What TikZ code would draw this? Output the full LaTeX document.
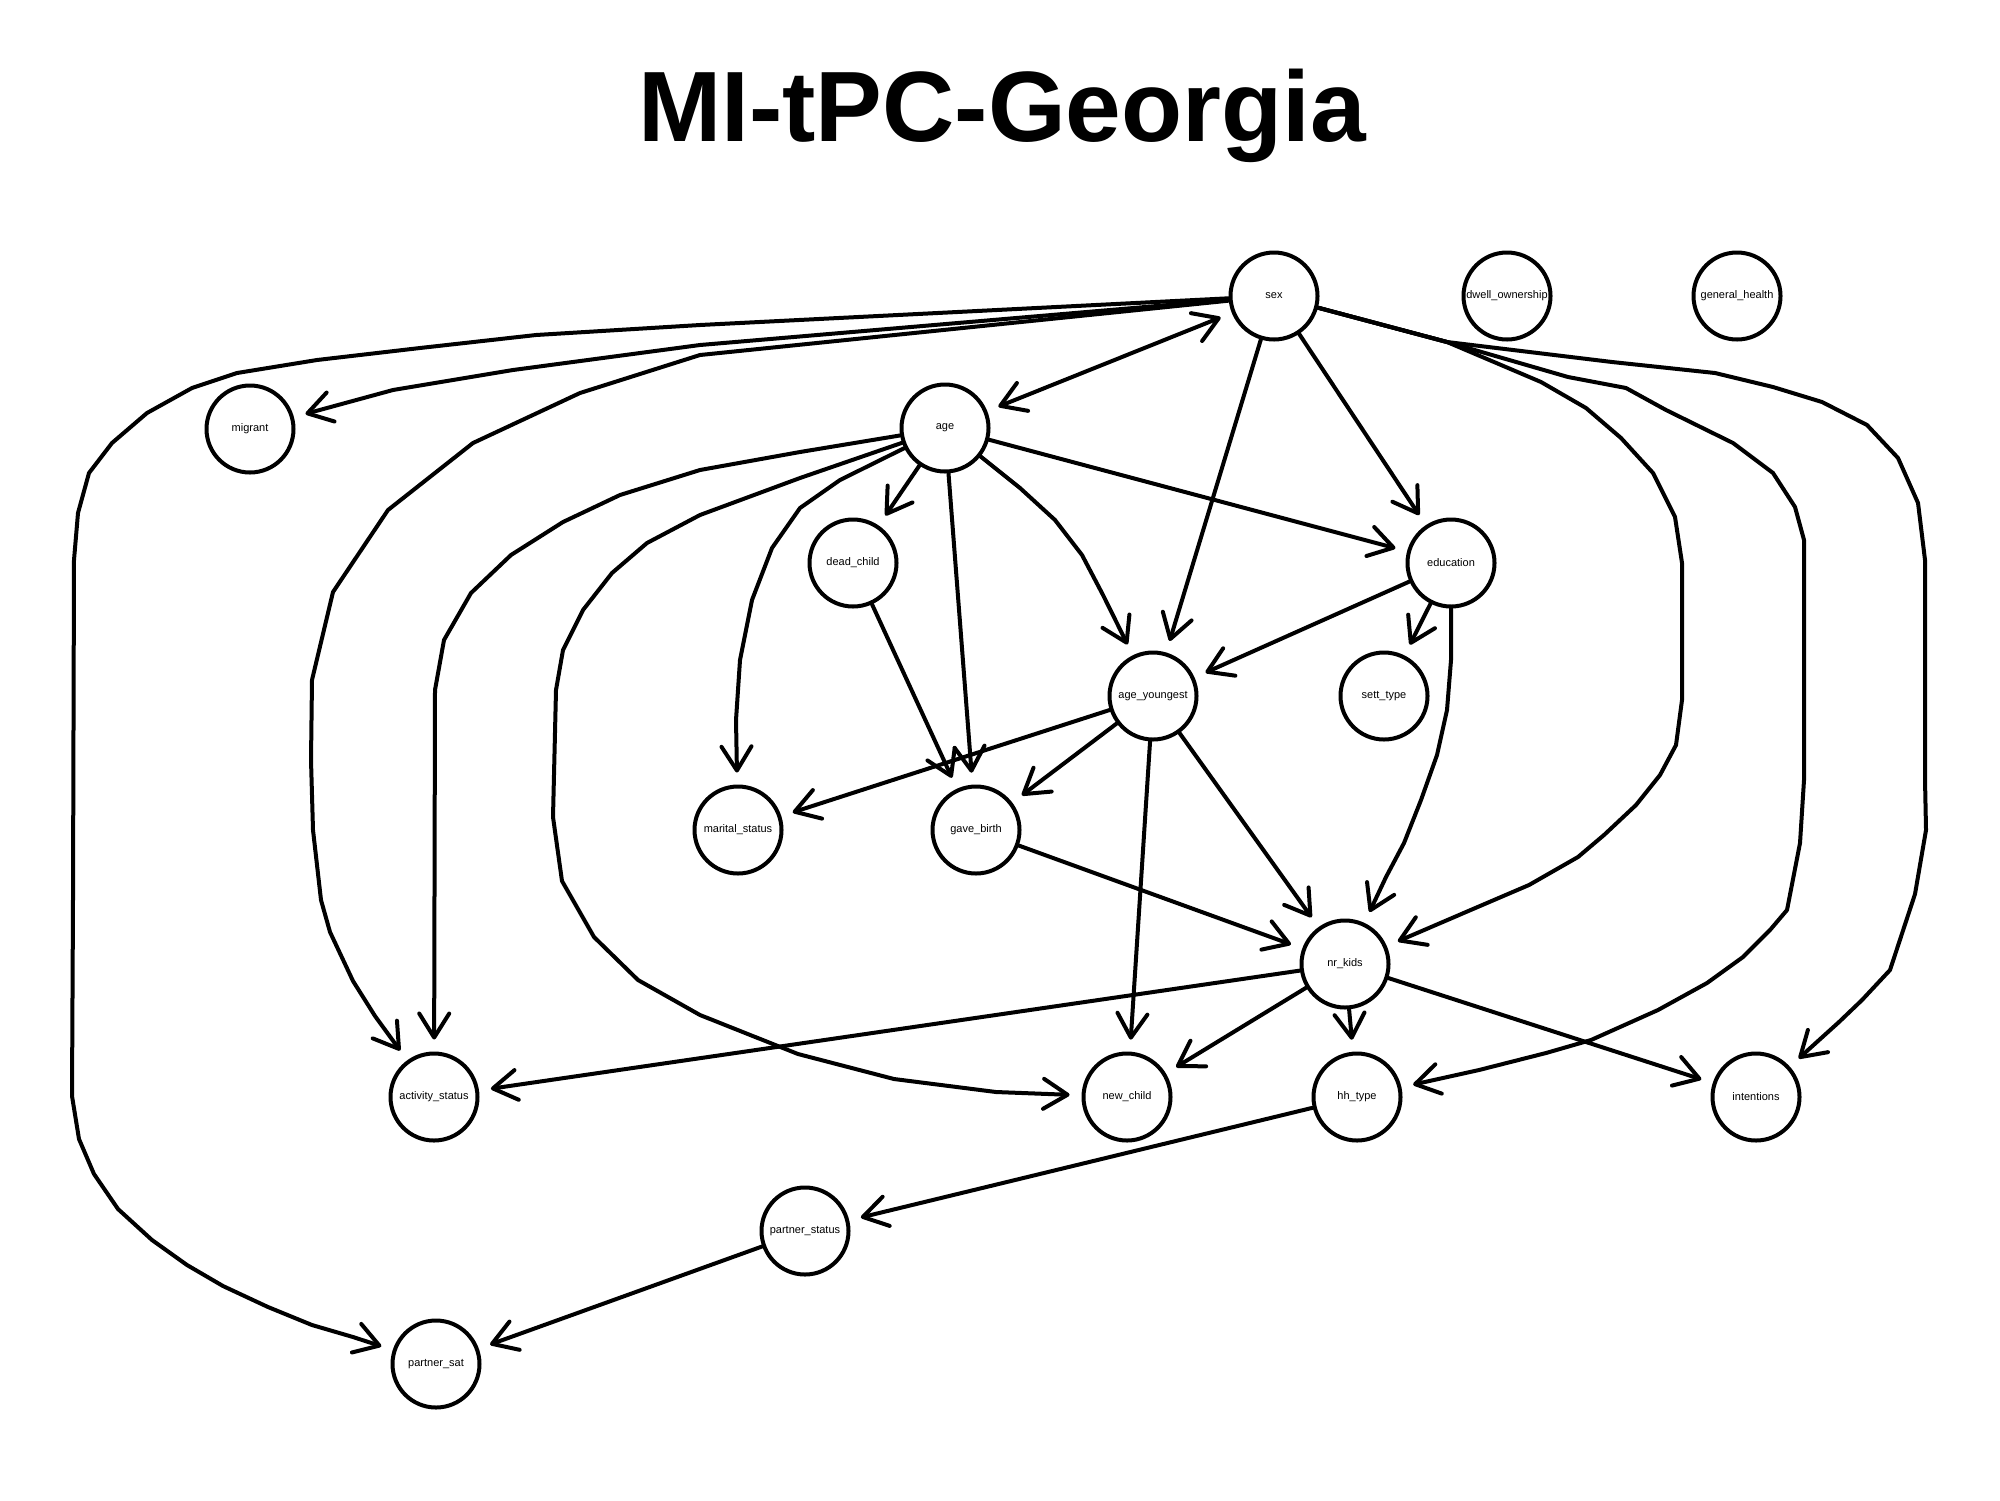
\documentclass[tikz,border=0pt]{standalone}
\usepackage{fontspec}
\setmainfont{Liberation Sans}
\usetikzlibrary{arrows.meta}
\begin{document}
\begin{tikzpicture}[x=0.5pt,y=-0.5pt,
  var/.style={circle,draw,line width=2pt,minimum size=43.5pt,inner sep=0pt,font=\fontsize{5.5pt}{6.6pt}\selectfont},
  tip/.tip={Straight Barb[length=12pt,width=15pt,round]},
  edge/.style={line width=2pt,line join=round,line cap=round,-tip,shorten >=6pt},
  biedge/.style={edge,tip-tip,shorten <=6pt}]
\useasboundingbox (0,0) rectangle (2000,1500);
\node[anchor=base,font=\fontsize{50pt}{60pt}\selectfont\bfseries] (title) at (1002,141) {MI-tPC-Georgia};

\node[var] (sex) at (1274,296) {sex};
\node[var] (dwell) at (1507,296) {dwell\_ownership};
\node[var] (gh) at (1737,296) {general\_health};
\node[var] (migrant) at (250,429) {migrant};
\node[var] (age) at (945,428) {age};
\node[var] (dead) at (853,563) {dead\_child};
\node[var] (edu) at (1451,563) {education};
\node[var] (ay) at (1153,696) {age\_youngest};
\node[var] (sett) at (1384,696) {sett\_type};
\node[var] (marital) at (738,830) {marital\_status};
\node[var] (gave) at (976,830) {gave\_birth};
\node[var] (nrk) at (1345,964) {nr\_kids};
\node[var] (act) at (434,1097) {activity\_status};
\node[var] (newc) at (1127,1097) {new\_child};
\node[var] (hh) at (1357,1097) {hh\_type};
\node[var] (int) at (1756,1097) {intentions};
\node[var] (pstat) at (805,1231) {partner\_status};
\node[var] (psat) at (436,1364) {partner\_sat};

% sex edges
\draw[edge] (sex) -- (700,345) -- (513,370) -- (393,390) -- (migrant);
\draw[edge] (sex) -- (700,325) -- (536,335) -- (420,348) -- (317,360) -- (237,373) -- (192,388) -- (147,413) -- (112,443) -- (89,473) -- (78,513) -- (74,560) -- (73,900) -- (72,1096) -- (79,1139) -- (94,1174) -- (118,1209) -- (152,1240) -- (187,1265) -- (223,1286) -- (268,1307) -- (312,1325) -- (353,1337) -- (psat);
\draw[edge] (sex) -- (700,355) -- (580,393) -- (473,443) -- (388,510) -- (333,592) -- (312,680) -- (311,760) -- (313,830) -- (321,900) -- (330,932) -- (353,981) -- (375,1016) -- (act);
\draw[biedge] (age) -- (sex);
\draw[edge] (sex) -- (ay);
\draw[edge] (sex) -- (edu);
\draw[edge] (sex) -- (1447,342) -- (1541,382) -- (1586,408) -- (1621,438) -- (1653,473) -- (1675,517) -- (1682,563) -- (1682,700) -- (1676,745) -- (1660,775) -- (1636,805) -- (1604,835) -- (1578,857) -- (1529,885) -- (1466,912) -- (nrk);
\draw[edge] (sex) -- (1447,342) -- (1568,377) -- (1626,388) -- (1666,410) -- (1733,443) -- (1773,473) -- (1795,507) -- (1804,540) -- (1804,780) -- (1800,843) -- (1787,910) -- (1770,930) -- (1743,957) -- (1707,983) -- (1658,1010) -- (1591,1040) -- (1546,1053) -- (1479,1070) -- (hh);
\draw[edge] (sex) -- (1447,342) -- (1612,362) -- (1715,373) -- (1773,387) -- (1822,402) -- (1867,425) -- (1898,458) -- (1918,503) -- (1925,560) -- (1925,780) -- (1926,830) -- (1915,894) -- (1890,970) -- (1862,1000) -- (1839,1022) -- (int);

% age edges
\draw[edge] (age) -- (dead);
\draw[edge] (age) -- (gave);
\draw[edge] (age) -- (840,480) -- (800,508) -- (772,548) -- (752,600) -- (740,660) -- (736,720) -- (marital);
\draw[edge] (age) -- (1020,488) -- (1055,520) -- (1082,555) -- (1103,595) -- (ay);
\draw[edge] (age) -- (edu);
\draw[edge] (age) -- (800,452) -- (700,470) -- (620,495) -- (563,522) -- (511,555) -- (471,593) -- (444,640) -- (435,690) -- (act);
\draw[edge] (age) -- (800,478) -- (700,515) -- (647,543) -- (612,573) -- (583,610) -- (563,650) -- (556,690) -- (553,817) -- (562,881) -- (594,937) -- (638,980) -- (700,1015) -- (798,1054) -- (894,1079) -- (996,1092) -- (newc);

% others
\draw[edge] (dead) -- (gave);
\draw[edge] (edu) -- (ay);
\draw[edge] (edu) -- (sett);
\draw[edge] (edu) -- (1451,660) -- (1447,710) -- (1437,755) -- (1421,800) -- (1404,843) -- (1386,877) -- (nrk);
\draw[edge] (ay) -- (marital);
\draw[edge] (ay) -- (gave);
\draw[edge] (ay) -- (newc);
\draw[edge] (ay) -- (nrk);
\draw[edge] (gave) -- (nrk);
\draw[edge] (nrk) -- (act);
\draw[edge] (nrk) -- (newc);
\draw[edge] (nrk) -- (hh);
\draw[edge] (nrk) -- (int);
\draw[edge] (hh) -- (pstat);
\draw[edge] (pstat) -- (psat);
\end{tikzpicture}
\end{document}
